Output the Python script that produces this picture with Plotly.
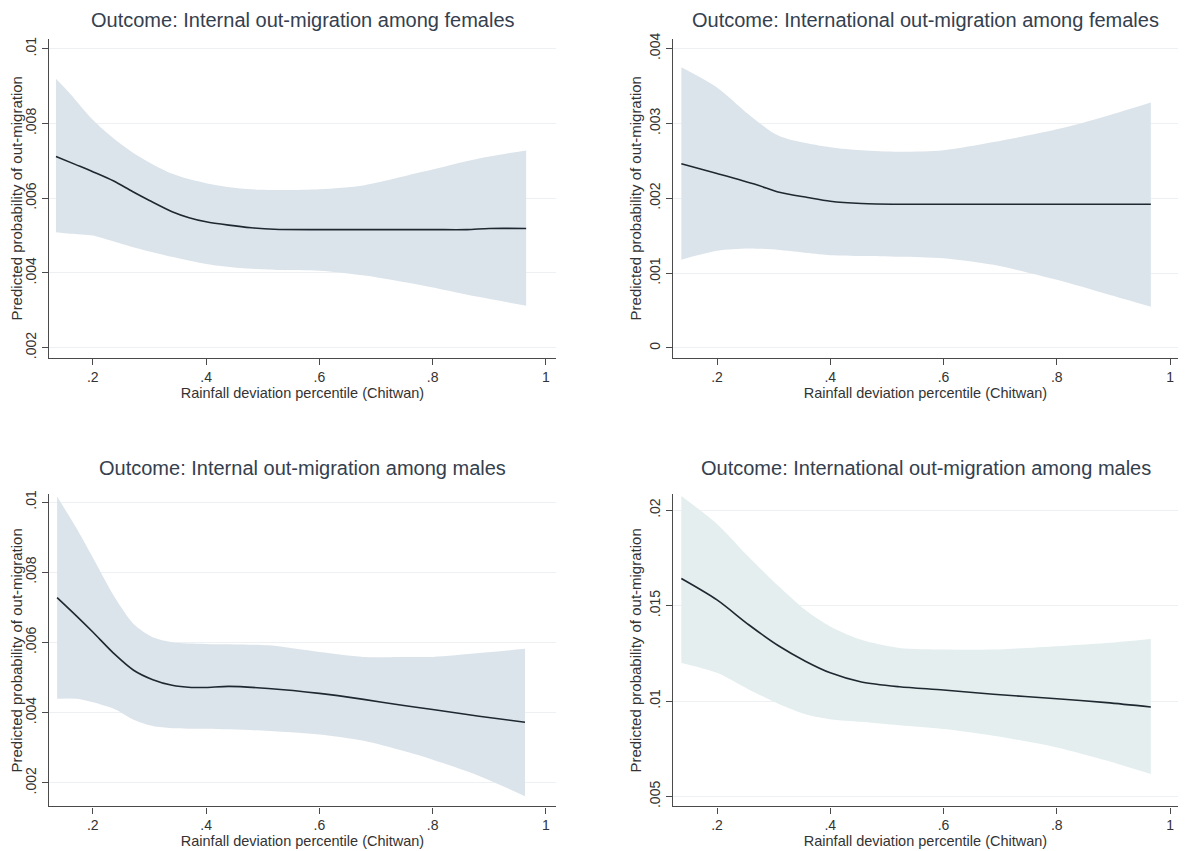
import plotly.graph_objects as go

# ---------------- data ----------------
# Panel 1: Internal out-migration among females
tl_x_mean = [0.135, 0.17, 0.2, 0.237, 0.27, 0.30, 0.34, 0.37, 0.40, 0.44, 0.48, 0.52, 0.60, 0.70, 0.80, 0.86, 0.90, 0.965]
tl_mean   = [0.00712, 0.00690, 0.00671, 0.00646, 0.00618, 0.00594, 0.00564, 0.00548, 0.00537, 0.00528, 0.00521, 0.00517, 0.00516, 0.00516, 0.00516, 0.00516, 0.00519, 0.00519]
tl_x_band = [0.135, 0.16, 0.2, 0.237, 0.278, 0.339, 0.40, 0.46, 0.53, 0.60, 0.68, 0.78, 0.88, 0.965]
tl_upper  = [0.00920, 0.00880, 0.00810, 0.00760, 0.00715, 0.00666, 0.00640, 0.00626, 0.00622, 0.00624, 0.00635, 0.00670, 0.00706, 0.00728]
tl_lower  = [0.00509, 0.00505, 0.00500, 0.00484, 0.00466, 0.00443, 0.00424, 0.00413, 0.00408, 0.00406, 0.00393, 0.00367, 0.00336, 0.00312]

# Panel 2: International out-migration among females
tr_x_mean = [0.137, 0.20, 0.27, 0.31, 0.36, 0.40, 0.455, 0.522, 0.60, 0.70, 0.80, 0.90, 0.966]
tr_mean   = [0.00246, 0.00233, 0.00218, 0.00208, 0.00201, 0.00196, 0.00193, 0.00192, 0.00192, 0.00192, 0.00192, 0.00192, 0.00192]
tr_x_band = [0.137, 0.20, 0.256, 0.31, 0.40, 0.455, 0.522, 0.60, 0.688, 0.80, 0.888, 0.966]
tr_upper  = [0.00375, 0.00348, 0.00312, 0.00283, 0.00268, 0.00264, 0.00262, 0.00264, 0.00275, 0.00292, 0.00310, 0.00328]
tr_lower  = [0.00118, 0.00130, 0.00133, 0.00131, 0.00124, 0.00123, 0.00122, 0.00120, 0.00111, 0.00091, 0.00072, 0.00055]

# Panel 3: Internal out-migration among males
bl_x_mean = [0.137, 0.171, 0.2, 0.239, 0.272, 0.306, 0.34, 0.374, 0.40, 0.44, 0.51, 0.60, 0.678, 0.746, 0.80, 0.882, 0.963]
bl_mean   = [0.00728, 0.00676, 0.00630, 0.00566, 0.00521, 0.00494, 0.00478, 0.00472, 0.00472, 0.00475, 0.00469, 0.00455, 0.00438, 0.00421, 0.00409, 0.00390, 0.00373]
bl_x_band = [0.137, 0.171, 0.2, 0.239, 0.272, 0.306, 0.34, 0.40, 0.51, 0.60, 0.678, 0.746, 0.80, 0.882, 0.963]
bl_upper  = [0.01016, 0.00926, 0.00842, 0.00728, 0.00653, 0.00615, 0.00601, 0.00596, 0.00592, 0.00573, 0.00559, 0.00559, 0.00559, 0.00570, 0.00582]
bl_lower  = [0.00440, 0.00440, 0.00430, 0.00410, 0.00380, 0.00362, 0.00356, 0.00354, 0.00348, 0.00338, 0.00320, 0.00292, 0.00266, 0.00220, 0.00162]

# Panel 4: International out-migration among males
br_x_mean = [0.137, 0.2, 0.256, 0.31, 0.356, 0.40, 0.455, 0.522, 0.60, 0.688, 0.80, 0.888, 0.966]
br_mean   = [0.01642, 0.01530, 0.01400, 0.01287, 0.01209, 0.01148, 0.01100, 0.01075, 0.01058, 0.01036, 0.01012, 0.00992, 0.00969]
br_x_band = br_x_mean
br_upper  = [0.02075, 0.01928, 0.01755, 0.01599, 0.01477, 0.01391, 0.01321, 0.01278, 0.01270, 0.01270, 0.01287, 0.01304, 0.01325]
br_lower  = [0.01200, 0.01148, 0.01061, 0.00983, 0.00931, 0.00905, 0.00891, 0.00873, 0.00853, 0.00818, 0.00757, 0.00688, 0.00618]

titles = [
    "Outcome: Internal out-migration among females",
    "Outcome: International out-migration among females",
    "Outcome: Internal out-migration among males",
    "Outcome: International out-migration among males",
]
x_title = "Rainfall deviation percentile (Chitwan)"
y_title = "Predicted probability of out-migration"

x_tickvals = [0.2, 0.4, 0.6, 0.8, 1.0]
x_ticktext = [".2", ".4", ".6", ".8", "1"]

tl_yticks = [0.002, 0.004, 0.006, 0.008, 0.01]
tl_ytext = [".002", ".004", ".006", ".008", ".01"]
tr_yticks = [0.0, 0.001, 0.002, 0.003, 0.004]
tr_ytext = ["0", ".001", ".002", ".003", ".004"]
bl_yticks = [0.002, 0.004, 0.006, 0.008, 0.01]
bl_ytext = [".002", ".004", ".006", ".008", ".01"]
br_yticks = [0.005, 0.01, 0.015, 0.02]
br_ytext = [".005", ".01", ".015", ".02"]

# ---------------- styling / layout ----------------
OFF = 8  # page body margin in the browser
W, H = 1186 - OFF, 851 - OFF
FONT = "Liberation Sans, Arial, sans-serif"
LINE_COL = "#1e2830"
AX_COL = "#4a4a4a"
GRID_COL = "#eef1f3"
TITLE_COL = "#34404e"

def px_x(p):
    return (p - OFF) / W

def px_y(p):
    return 1 - (p - OFF) / H

panels = [
    dict(xm=tl_x_mean, m=tl_mean, xb=tl_x_band, up=tl_upper, lo=tl_lower,
         yt=tl_yticks, ytt=tl_ytext, yr=[0.00173, 0.01027], band="#dce4eb",
         dx=(49, 556), dy=(33, 355), xr=[0.1227, 1.0177], ty=14),
    dict(xm=tr_x_mean, m=tr_mean, xb=tr_x_band, up=tr_upper, lo=tr_lower,
         yt=tr_yticks, ytt=tr_ytext, yr=[-0.00013, 0.00413], band="#dce4eb",
         dx=(673, 1178), dy=(33, 355), xr=[0.1223, 1.014], ty=14),
    dict(xm=bl_x_mean, m=bl_mean, xb=bl_x_band, up=bl_upper, lo=bl_lower,
         yt=bl_yticks, ytt=bl_ytext, yr=[0.00133, 0.01022], band="#dce4eb",
         dx=(49, 556), dy=(493, 808), xr=[0.1227, 1.0177], ty=466),
    dict(xm=br_x_mean, m=br_mean, xb=br_x_band, up=br_upper, lo=br_lower,
         yt=br_yticks, ytt=br_ytext, yr=[0.00448, 0.02083], band="#e4eeef",
         dx=(673, 1178), dy=(493, 808), xr=[0.1223, 1.014], ty=466),
]

fig = go.Figure()
layout = dict(
    width=W, height=H,
    margin=dict(l=0, r=0, t=0, b=0),
    paper_bgcolor="white", plot_bgcolor="white",
    showlegend=False,
    font=dict(family=FONT, color="#333333"),
    annotations=[],
)

for i, p in enumerate(panels):
    n = i + 1
    xa = "x" if n == 1 else f"x{n}"
    ya = "y" if n == 1 else f"y{n}"
    # confidence band: lower edge, then upper edge filled down to it
    fig.add_trace(go.Scatter(
        x=p["xb"], y=p["lo"], mode="lines",
        line=dict(width=0, color=p["band"], shape="spline", smoothing=0.8),
        hoverinfo="skip", xaxis=xa, yaxis=ya,
    ))
    fig.add_trace(go.Scatter(
        x=p["xb"], y=p["up"], mode="lines",
        fill="tonexty", fillcolor=p["band"],
        line=dict(width=0, color=p["band"], shape="spline", smoothing=0.8),
        hoverinfo="skip", xaxis=xa, yaxis=ya,
    ))
    fig.add_trace(go.Scatter(
        x=p["xm"], y=p["m"], mode="lines",
        line=dict(color=LINE_COL, width=1.6, shape="spline", smoothing=0.8),
        xaxis=xa, yaxis=ya,
    ))
    xkey = "xaxis" if n == 1 else f"xaxis{n}"
    ykey = "yaxis" if n == 1 else f"yaxis{n}"
    layout[xkey] = dict(
        domain=[px_x(p["dx"][0]), px_x(p["dx"][1])],
        anchor=ya, range=p["xr"],
        tickvals=x_tickvals, ticktext=x_ticktext,
        ticks="outside", ticklen=6, tickcolor=AX_COL, tickwidth=1,
        showline=True, linecolor=AX_COL, linewidth=1.2,
        showgrid=False, zeroline=False,
        tickfont=dict(size=14, color="#333333"),
        title=dict(text=x_title, font=dict(size=14.5, color="#333333"), standoff=0),
    )
    layout[ykey] = dict(
        domain=[px_y(p["dy"][1]), px_y(p["dy"][0])],
        anchor=xa, range=p["yr"],
        tickvals=p["yt"], ticktext=p["ytt"], tickangle=-90,
        ticks="outside", ticklen=6, tickcolor=AX_COL, tickwidth=1,
        showline=True, linecolor=AX_COL, linewidth=1.2,
        showgrid=True, gridcolor=GRID_COL, gridwidth=1, zeroline=False,
        tickfont=dict(size=14, color="#333333"),
        title=dict(text=y_title, font=dict(size=15, color="#333333"), standoff=2),
    )
    cx = (p["dx"][0] + p["dx"][1]) / 2
    layout["annotations"].append(dict(
        text=titles[i], xref="paper", yref="paper",
        x=px_x(cx), y=px_y(p["ty"]),
        xanchor="center", yanchor="middle", showarrow=False,
        font=dict(size=20, color=TITLE_COL, family=FONT),
    ))

fig.update_layout(**layout)
fig.write_html("out.html")
